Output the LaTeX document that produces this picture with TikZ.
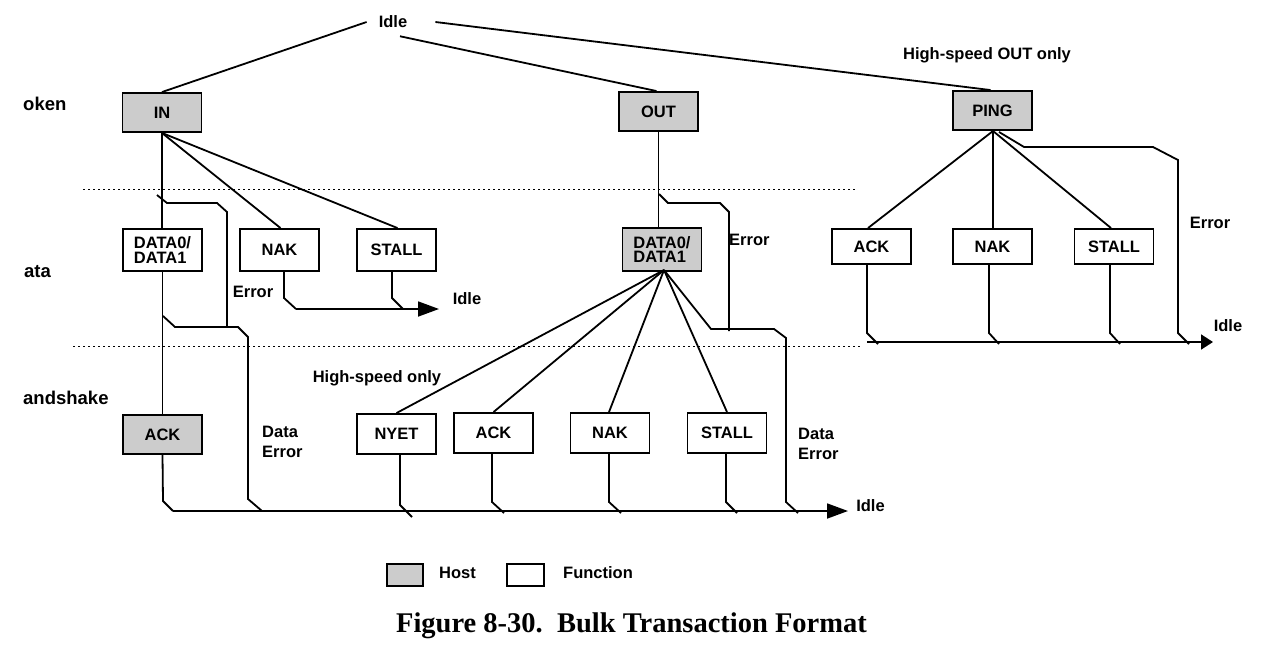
\documentclass[tikz,border=0pt]{standalone}
\usepackage{fontspec}
\setmainfont{Liberation Sans}
\newfontfamily\capfont{Liberation Serif}
\usetikzlibrary{arrows.meta}
\definecolor{hostgray}{HTML}{CCCCCC}
\begin{document}
\begin{tikzpicture}[x=1pt,y=-1pt,
  lbl/.style={font=\bfseries\fontsize{16.5}{14.5}\selectfont, inner sep=0pt},
  phase/.style={font=\bfseries\fontsize{18.5}{20}\selectfont, inner sep=0pt, anchor=west},
  box/.style={draw, line width=1.9pt, minimum width=79pt, inner sep=0pt, lbl, align=left},
  host/.style={box, fill=hostgray},
  func/.style={box, fill=white},
  conn/.style={line width=1.8pt},
  sep/.style={line width=0.9pt, dash pattern=on 2pt off 3pt},
  arr/.style={conn, -{Triangle[length=21pt,width=15pt]}},
  arrs/.style={conn, -{Triangle[length=12pt,width=15pt]}},
]
\useasboundingbox (0,0) rectangle (1272,651);
\fill[white] (0,0) rectangle (1272,651);

% phase labels
\node[phase] (tok) at (23,104) {oken};
\node[phase] (dat) at (24,272) {ata};
\node[phase] (hsk) at (23,398) {andshake};

% separators
\draw[sep] (83,189) -- (857,189);
\draw[sep] (73,346) -- (862,346);

% top idle
\node[lbl, inner xsep=12pt, inner ysep=8pt] (idle) at (393,22) {Idle};

% token boxes
\node[host, minimum height=39pt] (IN) at (162,112.5) {IN};
\node[host, minimum height=39pt] (OUT) at (658.5,111.5) {OUT};
\node[host, minimum height=39pt] (PING) at (992.5,110.5) {PING};
\node[lbl] (hsout) at (987,55) {High-speed OUT only};

\draw[conn] (idle.west) -- (IN.north);
\draw[conn] ([xshift=7pt]idle.south) -- ([xshift=-2pt]OUT.north);
\draw[conn] ([xshift=16pt]idle.east) -- ([xshift=-2pt]PING.north);

% ---------- IN branch ----------
\node[func, minimum height=42pt] (D0L) at (162.5,250) {DATA0/\\DATA1};
\node[func, minimum height=42pt] (NAKL) at (279.5,250) {NAK};
\node[func, minimum height=42pt] (STALLL) at (396.5,250) {STALL};
\node[host, minimum height=39pt] (ACKH) at (162.5,434.5) {ACK};

\draw[conn] (IN.south) -- (IN.south |- D0L.north);
\draw[conn] (IN.south) -- ([xshift=1pt]NAKL.north);
\draw[conn] (IN.south) -- ([xshift=1pt]STALLL.north);
\draw[conn] (D0L.south) -- (ACKH.north);

% error from IN
\coordinate (e1) at (157,195);
\coordinate (e1j) at (227,327);
\draw[conn] (e1) -- (167,203) -- (217,203) -- (227,212) -- (e1j);
% data error left
\coordinate (de1) at (163,316);
\coordinate (de1e) at (262,511);
\draw[conn] (de1) -- (175,327) -- (238,327) -- (248,337) -- (248,499) -- (de1e);
\node[lbl] (errL) at (253,292) {Error};
\node[lbl, anchor=west, align=left] (deL) at (262,442) {Data\\[5pt]Error};

% NAK/STALL -> Idle
\coordinate (nk1) at (296,309);
\coordinate (st1) at (403,309);
\coordinate (idleA) at (439,309);
\draw[conn] ([xshift=4.5pt]NAKL.south) -- (284,298) -- (nk1);
\draw[conn] ([xshift=-4.5pt]STALLL.south) -- (392,298) -- (st1);
\draw[arr] (nk1) -- (idleA);
\node[lbl] (idleL) at (467,299) {Idle};

% ---------- OUT branch ----------
\node[host, minimum height=43pt] (D0M) at (662,249.5) {DATA0/\\DATA1};
\draw[conn] (OUT.south) -- (OUT.south |- D0M.north);
\coordinate (e2) at (659,194);
\coordinate (e2j) at (729,331);
\draw[conn] (e2) -- (668,203) -- (720,203) -- (729,212) -- (e2j);
\node[lbl, anchor=west] (errM) at (729,240) {Error};

\node[func, minimum height=40pt] (NYET) at (396.5,434) {NYET};
\node[func, minimum height=40pt] (ACKB) at (493.5,433) {ACK};
\node[func, minimum height=40pt] (NAKB) at (610,433) {NAK};
\node[func, minimum height=40pt] (STALLB) at (727,433) {STALL};
\node[lbl] (hso) at (377,378) {High-speed only};

\coordinate (fan) at (664,270);
\draw[conn] (fan) -- (NYET.north);
\draw[conn] (fan) -- (ACKB.north);
\draw[conn] (fan) -- ([xshift=-1pt]NAKB.north);
\draw[conn] (fan) -- (STALLB.north);
\coordinate (de2e) at (798,513);
\draw[conn] (fan) -- (711,329) -- (774,329) -- (786,338) -- (786,502) -- (de2e);
\node[lbl, anchor=west, align=left] (deM) at (798,444) {Data\\[5pt]Error};

% bottom bus
\coordinate (ackh1) at (173,511);
\coordinate (idleB) at (848,511);
\draw[conn] (ACKH.south) -- (163,501) -- (ackh1);
\draw[conn] ([xshift=3.5pt]NYET.south) -- (400,505) -- (412,517);
\draw[conn] ([xshift=-1.5pt]ACKB.south) -- (492,502) -- (504,513);
\draw[conn] ([xshift=-1pt]NAKB.south) -- (609,502) -- (621,513);
\draw[conn] ([xshift=-1pt]STALLB.south) -- (726,502) -- (737,513);
\draw[arr] (ackh1) -- (idleB);
\node[lbl] (idleBl) at (870.5,506) {Idle};

% ---------- PING branch ----------
\node[func, minimum height=35pt] (ACKR) at (871.5,246.5) {ACK};
\node[func, minimum height=35pt] (NAKR) at (992.5,246.5) {NAK};
\node[func, minimum height=35pt] (STALLR) at (1114,246.5) {STALL};
\coordinate (pf) at (993,131);
\draw[conn] (pf) -- ([xshift=-3.5pt]ACKR.north);
\draw[conn] (pf) -- (pf |- NAKR.north);
\draw[conn] (pf) -- ([xshift=-3pt]STALLR.north);
\coordinate (e3) at (999,132);
\coordinate (e3e) at (1189,344);
\draw[conn] (e3) -- (1024,147) -- (1153,147) -- (1178,160) -- (1178,333) -- (e3e);
\node[lbl] (errR) at (1210,223) {Error};

\coordinate (ar1) at (867,342);
\coordinate (idleC) at (1213,342);
\draw[conn] ([xshift=-4.5pt]ACKR.south) -- (867,333) -- (878,344);
\draw[conn] ([xshift=-3.5pt]NAKR.south) -- (989,333) -- (999,344);
\draw[conn] ([xshift=-4pt]STALLR.south) -- (1110,333) -- (1120,344);
\draw[arrs] (ar1) -- (idleC);
\node[lbl] (idleCl) at (1228,326) {Idle};

% legend
\node[draw, line width=1.8pt, fill=hostgray, minimum width=36pt, minimum height=22pt, inner sep=0pt] (lgH) at (405,575) {};
\node[lbl, anchor=west] (lgHt) at (439,573) {Host};
\node[draw, line width=1.8pt, fill=white, minimum width=37pt, minimum height=22pt, inner sep=0pt] (lgF) at (525.5,575) {};
\node[lbl, anchor=west] (lgFt) at (563,573) {Function};

% caption
\node[font=\capfont\bfseries\fontsize{28.5}{30}\selectfont, inner sep=0pt, anchor=base] (cap) at (631.5,632) {Figure 8-30.\ \ Bulk Transaction Format};
\end{tikzpicture}
\end{document}
